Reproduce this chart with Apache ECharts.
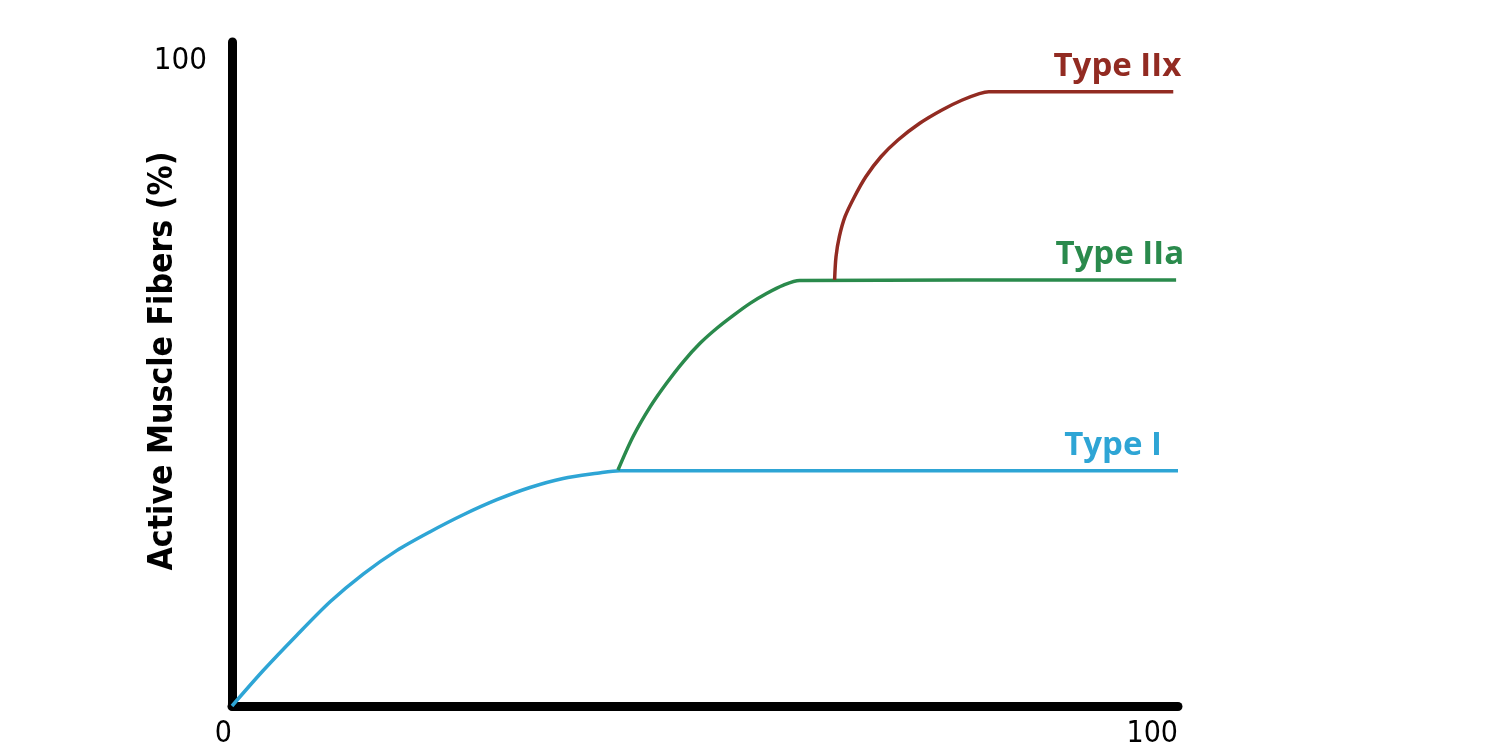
<!DOCTYPE html>
<html>
<head>
<meta charset="utf-8">
<script src="https://cdn.jsdelivr.net/npm/echarts@6/dist/echarts.min.js"></script>
<style>
  html, body { margin: 0; padding: 0; background: #ffffff; }
  #chart { width: 1500px; height: 750px; }
</style>
</head>
<body>
<div id="chart"></div>
<script>
// ---- data ----
const typeIX = [0, 3.3, 6.8, 10.4, 13.9, 17.4, 20.9, 24.5, 28.0, 31.5, 35.0, 38.6, 41.0, 100];
const typeIY = [0, 5.5, 10.9, 16.2, 20.5, 24.1, 27.0, 29.7, 32.0, 33.9, 35.3, 36.1, 36.5, 36.5];

const typeIIaX = [40.8, 42.4, 44.2, 45.95, 47.7, 49.5, 51.25, 53.0, 54.8, 56.5, 58.3, 60.0, 99.8];
const typeIIaY = [36.6, 41.8, 46.4, 50.1, 53.4, 56.3, 58.6, 60.6, 62.5, 64.0, 65.3, 66.0, 66.1];

const typeIIxX = [63.7, 63.85, 64.2, 64.8, 65.8, 67.0, 68.6, 70.4, 72.7, 75.1, 77.2, 79.0, 80.0, 99.5];
const typeIIxY = [66.1, 69.7, 72.8, 75.9, 79.0, 82.1, 85.2, 87.8, 90.4, 92.5, 94.0, 95.0, 95.3, 95.3];

const seriesNames = ['Type I', 'Type IIa', 'Type IIx'];
const xTickLabels = [0, 100];
const yTickLabels = [100];
const yTitle = 'Active Muscle Fibers (%)';

const colors = ['#2ea5d5', '#2a8a4c', '#922b22'];
const condensed = '"DejaVu Sans Condensed", "DejaVu Sans", sans-serif';

function pairs(xs, ys) { return xs.map((x, i) => [x, ys[i]]); }

function buildSeries(name, xs, ys, color, labelOffset) {
  return {
    type: 'line',
    name: name,
    data: pairs(xs, ys),
    smooth: 0.3,
    symbol: 'none',
    showSymbol: false,
    lineStyle: { color: color, width: 3.5 },
    itemStyle: { color: color },
    endLabel: {
      show: true,
      formatter: name,
      align: 'right',
      verticalAlign: 'bottom',
      distance: 0,
      offset: labelOffset,
      color: color,
      fontFamily: 'Open Sans',
      fontWeight: 'bold',
      fontSize: 33
    },
    z: 3
  };
}

const chart = echarts.init(document.getElementById('chart'), null, { renderer: 'canvas' });
chart.setOption({
  animation: false,
  backgroundColor: '#ffffff',
  grid: { left: 232, right: 322, top: 42, bottom: 44, containLabel: false },
  xAxis: {
    type: 'value',
    min: 0,
    max: 100,
    splitLine: { show: false },
    axisTick: { show: false },
    axisLine: { show: true, onZero: false, lineStyle: { color: '#000', width: 9, cap: 'round' } },
    axisLabel: {
      customValues: xTickLabels,
      alignMinLabel: 'right',
      alignMaxLabel: 'right',
      margin: 13,
      color: '#000',
      fontFamily: condensed,
      fontSize: 30
    }
  },
  yAxis: {
    type: 'value',
    min: 0,
    max: 103,
    splitLine: { show: false },
    axisTick: { show: false },
    axisLine: { show: true, onZero: false, lineStyle: { color: '#000', width: 9, cap: 'round' } },
    axisLabel: {
      customValues: yTickLabels,
      margin: 25,
      color: '#000',
      fontFamily: condensed,
      fontSize: 31
    },
    name: yTitle,
    nameLocation: 'middle',
    nameGap: 52,
    nameMoveOverlap: false,
    nameTextStyle: {
      color: '#000',
      fontFamily: condensed,
      fontWeight: 'bold',
      fontSize: 33.5,
      padding: [0, 0, 0, 26]
    }
  },
  series: [
    buildSeries(seriesNames[0], typeIX, typeIY, colors[0], [-16, -9]),
    buildSeries(seriesNames[1], typeIIaX, typeIIaY, colors[1], [8, -9]),
    buildSeries(seriesNames[2], typeIIxX, typeIIxY, colors[2], [8, -9])
  ]
});
</script>
</body>
</html>
